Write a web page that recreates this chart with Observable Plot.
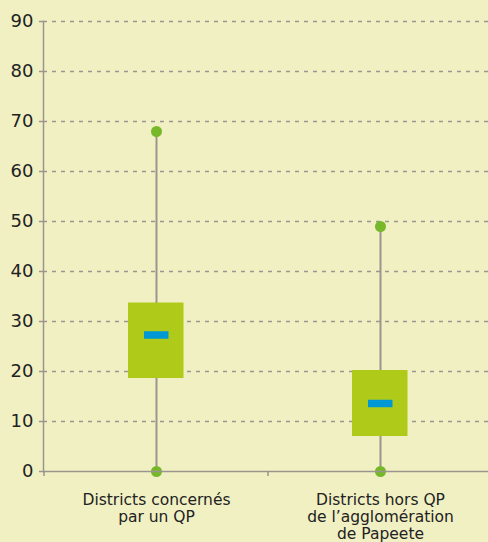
<!DOCTYPE html>
<html>
<head>
<meta charset="utf-8">
<script src="https://cdn.jsdelivr.net/npm/d3@7"></script>
<script src="https://cdn.jsdelivr.net/npm/@observablehq/plot@0.6"></script>
<style>
  html, body { margin: 0; padding: 0; background: #f1f0c3; }
  #chart svg { display: block; }
</style>
</head>
<body>
<div id="chart"></div>
<script>
const categories = ["Districts concernés\npar un QP", "Districts hors QP\nde l’agglomération\nde Papeete"];
const minValues = [0, 0];
const q1Values = [18.6, 7];
const medianValues = [27.3, 13.6];
const q3Values = [33.7, 20.2];
const maxValues = [68, 49];
const yTicks = [0, 10, 20, 30, 40, 50, 60, 70, 80, 90];

const data = categories.map((c, i) => ({
  cat: c, min: minValues[i], q1: q1Values[i], med: medianValues[i], q3: q3Values[i], max: maxValues[i]
}));

const grey = "#9a958f";
const font = "'DejaVu Sans', sans-serif";

const chart = Plot.plot({
  width: 488,
  height: 542,
  marginLeft: 43,
  marginRight: 0,
  marginTop: 21,
  marginBottom: 71,
  style: { background: "#f1f0c3", fontFamily: font, color: "#222" },
  x: { domain: categories, range: [43, 492], padding: 0, axis: null },
  y: { domain: [0, 90], axis: null },
  marks: [
    Plot.ruleY(yTicks.filter(d => d > 0), { stroke: grey, strokeWidth: 1.5, strokeDasharray: "4,5" }),
    Plot.ruleX(data, { x: "cat", y1: "min", y2: "max", stroke: grey, strokeWidth: 2 }),
    Plot.barY(data, { x: "cat", y1: "q1", y2: "q3", fill: "#afca18", insetLeft: 84, insetRight: 84.5 }),
    Plot.tickY(data, { x: "cat", y: "med", stroke: "#0098d4", strokeWidth: 7.5, insetLeft: 100, insetRight: 99.5 }),
    Plot.dot(data, { x: "cat", y: "max", r: 5.5, fill: "#76b82a" }),
    Plot.dot(data, { x: "cat", y: "min", r: 5.5, fill: "#76b82a" }),
    Plot.ruleY([0], { stroke: grey, strokeWidth: 1.5 }),
    Plot.frame({ anchor: "left", stroke: grey, strokeWidth: 1.5 }),
    Plot.axisY({ ticks: yTicks, tickSize: 4, tickPadding: 6, fontSize: 18, stroke: grey, strokeWidth: 1.5, fill: "#222", label: null }),
    Plot.ruleX(data, {
      x: "cat", y: 0, stroke: grey, strokeWidth: 1.5,
      render(index, scales, values, dims, context) {
        const g = d3.create("svg:g");
        const y0 = scales.y(0);
        for (const i of index) {
          const xs = scales.x(data[i].cat);
          g.append("line").attr("x1", xs).attr("x2", xs).attr("y1", y0).attr("y2", y0 + 5)
            .attr("stroke", grey).attr("stroke-width", 1.5);
        }
        return g.node();
      }
    }),
    Plot.text(data, { x: "cat", y: () => 0, text: "cat", lineAnchor: "top", dy: 22, fontSize: 15.5, lineHeight: 1.08, fill: "#222" })
  ]
});
document.getElementById("chart").appendChild(chart);
</script>
</body>
</html>
